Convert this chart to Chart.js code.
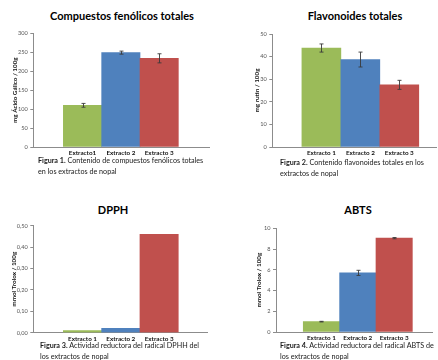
<!DOCTYPE html>
<html>
<head>
<meta charset="utf-8">
<script src="https://cdn.jsdelivr.net/npm/chart.js@4.4.1/dist/chart.umd.min.js"></script>
<style>
  html, body { margin: 0; padding: 0; background: #fff; }
  body { position: relative; width: 438px; height: 360px; overflow: hidden; font-family: Lato, "Open Sans", sans-serif; }
  canvas { position: absolute; }
  .title { position: absolute; font-weight: bold; font-size: 11px; line-height: 12px; color: #000;
           white-space: nowrap; transform: translate(-50%, -50%); }
  .caption { position: absolute; font-size: 7.2px; line-height: 10.5px; color: #1a1a1a; white-space: nowrap; }
</style>
</head>
<body>
<div class="title" style="left:122px; top:16px;">Compuestos fenólicos totales</div>
<div class="title" style="left:355px; top:16px;">Flavonoides totales</div>
<div class="title" style="left:113px; top:210px;">DPPH</div>
<div class="title" style="left:358px; top:210px;">ABTS</div>

<canvas id="c1" width="219" height="158" style="left:0; top:0;"></canvas>
<canvas id="c2" width="219" height="158" style="left:219px; top:0;"></canvas>
<canvas id="c3" width="219" height="164" style="left:0; top:180px;"></canvas>
<canvas id="c4" width="219" height="164" style="left:219px; top:180px;"></canvas>

<div class="caption" style="left:38px; top:156px;"><b>Figura 1.</b> Contenido de compuestos fenólicos totales<br>en los extractos de nopal</div>
<div class="caption" style="left:280px; top:158px;"><b>Figura 2.</b> Contenido flavonoides totales en los<br>extractos de nopal</div>
<div class="caption" style="left:40px; top:341px;"><b>Figura 3.</b> Actividad reductora del radical DPHH del<br>los extractos de nopal</div>
<div class="caption" style="left:280px; top:341px;"><b>Figura 4.</b> Actividad reductora del radical ABTS de<br>los extractos de nopal</div>

<script>
// Extract names on the category axes
const extractosFig1 = ['Extracto1', 'Extracto 2', 'Extracto 3'];
const extractos = ['Extracto 1', 'Extracto 2', 'Extracto 3'];

// Total phenolics (mg gallic acid / 100 g)
const fenolicos = [110, 249, 234];
const fenolicosErr = [5, 4, 12];

// Total flavonoids (mg rutin / 100 g)
const flavonoides = [43.8, 38.7, 27.5];
const flavonoidesErr = [1.8, 3.3, 2.0];

// DPPH radical scavenging (mmol Trolox / 100 g)
const dpph = [0.01, 0.02, 0.46];

// ABTS radical scavenging (mmol Trolox / 100 g)
const abts = [1.0, 5.7, 9.05];
const abtsErr = [0.03, 0.25, 0.06];

// Value axis ranges: [min, max, step]
const fenolicosAxis = [0, 300, 50];
const flavonoidesAxis = [0, 50, 10];
const dpphAxis = [0, 0.5, 0.1];
const abtsAxis = [0, 10, 2];

const barColors = ['#9BBB59', '#4F81BD', '#C0504D'];
const axisColor = '#8c8c8c';

Chart.defaults.font.family = 'Lato, "Open Sans", sans-serif';

// Draws +/- error whiskers on top of each bar using the value scale
const errorBars = {
  id: 'errorBars',
  afterDatasetsDraw(chart, args, opts) {
    const errs = opts.values;
    if (!errs) return;
    const yScale = chart.scales.y;
    const meta = chart.getDatasetMeta(0);
    const data = chart.data.datasets[0].data;
    const ctx = chart.ctx;
    ctx.save();
    ctx.strokeStyle = '#3a3a3a';
    ctx.lineWidth = 0.9;
    meta.data.forEach((bar, i) => {
      const v = data[i].y, e = errs[i];
      const x = Math.round(bar.x) + 0.5;
      const top = yScale.getPixelForValue(v + e);
      const bot = yScale.getPixelForValue(v - e);
      ctx.beginPath();
      ctx.moveTo(x, top); ctx.lineTo(x, bot);
      ctx.moveTo(x - 2, top); ctx.lineTo(x + 2, top);
      ctx.moveTo(x - 2, bot); ctx.lineTo(x + 2, bot);
      ctx.stroke();
    });
    ctx.restore();
  }
};

function makeChart(id, cats, values, errs, axis, yTitle, tickFmt, frame) {
  const ctx = document.getElementById(id);
  return new Chart(ctx, {
    type: 'bar',
    data: {
      datasets: [{
        data: values.map((v, i) => ({ x: i, y: v })),
        backgroundColor: barColors,
        borderWidth: 0,
        barPercentage: 1,
        categoryPercentage: 1
      }]
    },
    options: {
      responsive: false,
      animation: false,
      events: [],
      layout: { padding: { left: 0, right: frame.padRight, top: frame.padTop, bottom: frame.padBottom } },
      plugins: {
        legend: { display: false },
        tooltip: { enabled: false },
        errorBars: { values: errs }
      },
      scales: {
        x: {
          type: 'linear',
          offset: false,
          min: frame.xMin,
          max: frame.xMax,
          afterBuildTicks: s => { s.ticks = cats.map((c, i) => ({ value: i })); },
          afterFit: s => { s.height = 11; },
          ticks: {
            autoSkip: false, maxRotation: 0, padding: 2,
            color: '#111',
            font: { size: 6.3, weight: 'bold' },
            callback: v => cats[v]
          },
          grid: { display: false, drawTicks: false },
          border: { display: true, color: axisColor, width: 1 }
        },
        y: {
          min: axis[0], max: axis[1],
          afterFit: s => { s.width = frame.yWidth; },
          ticks: {
            stepSize: axis[2], padding: 2.5,
            color: '#555',
            font: { size: 5.6 },
            callback: tickFmt
          },
          grid: { drawOnChartArea: false, drawTicks: true, tickLength: 3, color: axisColor },
          border: { display: true, color: axisColor, width: 1 },
          title: {
            display: true, text: yTitle, color: '#111',
            font: { size: 6.3, weight: 'bold' },
            padding: { top: frame.titleGap, bottom: 0 }
          }
        }
      }
    },
    plugins: [errorBars]
  });
}

const intFmt = v => String(Math.round(v));
const commaFmt = v => v.toFixed(2).replace('.', ',');

makeChart('c1', extractosFig1, fenolicos, fenolicosErr, fenolicosAxis, 'mg Ácido Gálico / 100g', intFmt,
  { padTop: 33.3, padRight: 10, padBottom: 0, yWidth: 33.3, xMin: -1.284, xMax: 3.3, titleGap: 11 });
makeChart('c2', extractos, flavonoides, flavonoidesErr, flavonoidesAxis, 'mg rutin / 100g', intFmt,
  { padTop: 34, padRight: 1.3, padBottom: 0, yWidth: 53.3, xMin: -1.26, xMax: 2.96, titleGap: 34 });
makeChart('c3', extractos, dpph, null, dpphAxis, 'mmol Trolox / 100g', commaFmt,
  { padTop: 45.7, padRight: 12, padBottom: 0.3, yWidth: 33.3, xMin: -1.284, xMax: 3.25, titleGap: 10.5 });
makeChart('c4', extractos, abts, abtsErr, abtsAxis, 'mmol Trolox / 100g', intFmt,
  { padTop: 48.3, padRight: 5.3, padBottom: 1, yWidth: 57, xMin: -1.25, xMax: 3.06, titleGap: 36.5 });
</script>
</body>
</html>
